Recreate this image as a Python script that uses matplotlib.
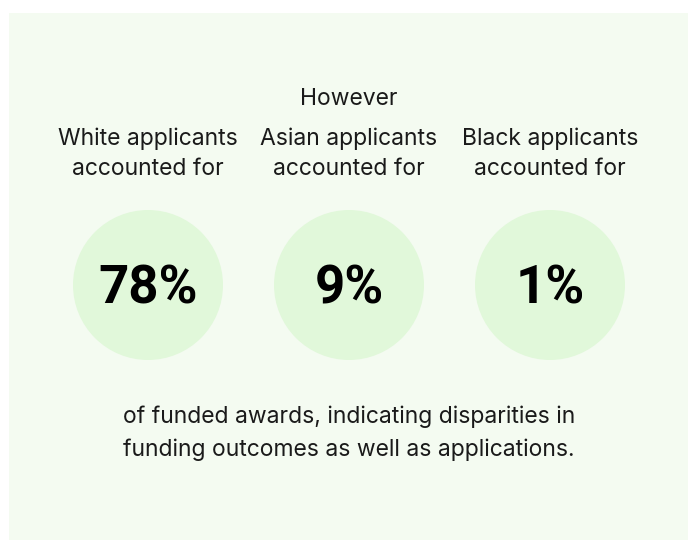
import matplotlib
matplotlib.use("Agg")
import matplotlib.pyplot as plt
from matplotlib.patches import Circle, Rectangle

# figures shown in the three bubbles
groups = ["White applicants\naccounted for", "Asian applicants\naccounted for", "Black applicants\naccounted for"]
shares = [78, 9, 1]
intro = "However"
footer = "of funded awards, indicating disparities in\nfunding outcomes as well as applications."

W, H = 694, 540
fig = plt.figure(figsize=(W / 100, H / 100), dpi=100)
ax = fig.add_axes([0, 0, 1, 1])
ax.set_xlim(0, W)
ax.set_ylim(H, 0)
ax.axis("off")

plt.rcParams["font.family"] = ["Inter", "DejaVu Sans"]

ax.add_patch(Rectangle((9, 13), 679, 530, facecolor="#f4fbf1", edgecolor="none"))

ax.text(349, 99, intro, ha="center", va="center", fontsize=16.5, color="#1a1a1a")

centers = [148, 349, 550]
for cx, label, val in zip(centers, groups, shares):
    ax.text(cx, 153.5, label, ha="center", va="center", fontsize=16.5,
            color="#1a1a1a", linespacing=1.5)
    ax.add_patch(Circle((cx, 285), 75, facecolor="#e1f8da", edgecolor="none"))
    ax.text(cx, 289, f"{val}%", ha="center", va="center", fontsize=38,
            fontweight="bold", color="#000000", family=["Roboto", "DejaVu Sans"])

ax.text(349, 433.5, footer, ha="center", va="center", fontsize=16.5,
        color="#1a1a1a", linespacing=1.6)

fig.savefig("out.png", dpi=100, facecolor="white")
